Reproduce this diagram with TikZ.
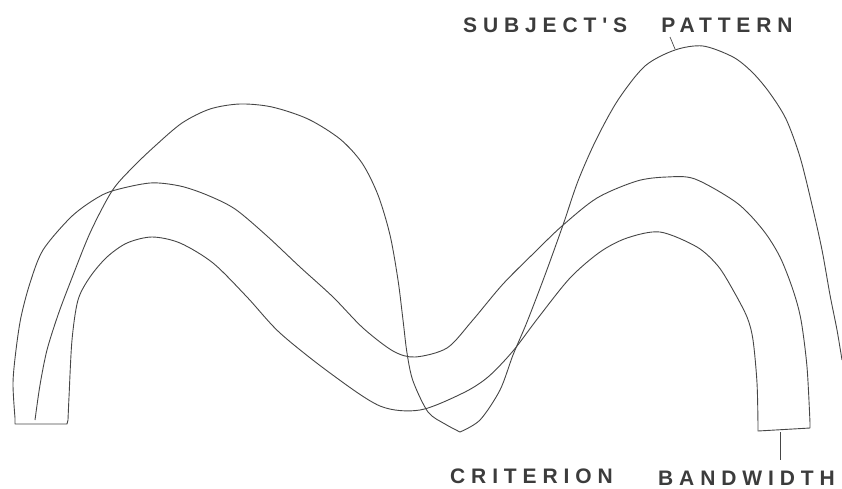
\documentclass[tikz,border=0pt]{standalone}
\usepackage{fontspec}
\newfontfamily\lblfont{Liberation Sans}[LetterSpace=28]
\definecolor{inkline}{RGB}{70,70,70}
\definecolor{inktext}{RGB}{60,60,60}
\begin{document}
\begin{tikzpicture}[x=1pt,y=-1pt,
  curve/.style={draw=inkline,line width=0.9pt,line join=round},
  lbl/.style={anchor=base west,inner sep=0pt,text=inktext,font=\lblfont\bfseries\fontsize{21}{21}\selectfont}]
\useasboundingbox (0,0) rectangle (842,488);
% band (criterion)
\draw[curve] (15,424) -- plot[smooth] coordinates {(15,418) (13,383) (16,350) (21,317) (30,283) (43,250) (70,218) (92,201) (112,191) (150,183) (180,186) (207,195) (235,209) (267,236) (300,267) (333,297) (363,328) (393,351) (415,357) (447,348) (472,321) (503,284) (537,250) (562,226) (597,198) (637,181) (667,177) (695,179) (737,203) (763,230) (780,257) (793,290) (801,320) (807,367) (810,423)}
  -- (810,428) -- (758,431)
  -- plot[smooth] coordinates {(758,426) (757,383) (753,340) (747,317) (733,290) (718,266) (697,247) (660,232) (627,238) (600,252) (570,278) (538,318) (513,351) (488,377) (463,393) (420,410) (380,406) (330,373) (280,333) (247,297) (213,263) (180,243) (152,237) (127,243) (107,257) (90,277) (78,300) (72,340) (69,397) (68,420)}
  -- (67,424) -- cycle;
% subject's pattern
\draw[curve] plot[smooth] coordinates {(35,420) (40,385) (47,350) (58,315) (70,283) (90,233) (112,191) (132,168) (155,146) (182,123) (210,109) (240,104) (272,107) (308,119) (340,139) (362,163) (378,195) (390,235) (398,280) (403,320) (407,353) (413,381) (428,412) (445,424) (460,432)};
\draw[curve] plot[smooth] coordinates {(460,432) (480,420) (500,390) (513,355) (527,322) (545,275) (563,225) (578,181) (596,140) (618,100) (645,66) (675,50) (703,46) (733,57) (752,72) (769,92) (786,119) (800,157) (812,205) (822,250) (830,295) (837,330) (842,360)};
% labels
\node[lbl] (subj) at (463,32) {SUBJECT'S\hspace{34pt}PATTERN};
\node[lbl] (crit) at (450,483) {CRITERION};
\node[lbl] (band) at (658,485) {BANDWIDTH};
% leader ticks
\coordinate (patA) at (670,37);
\coordinate (patB) at (675,49);
\draw[curve,line width=0.7pt] (patA) -- (patB);
\coordinate (bwA) at (780,432);
\coordinate (bwB) at (780,460);
\draw[curve,line width=0.7pt] (bwA) -- (bwB);
\end{tikzpicture}
\end{document}
